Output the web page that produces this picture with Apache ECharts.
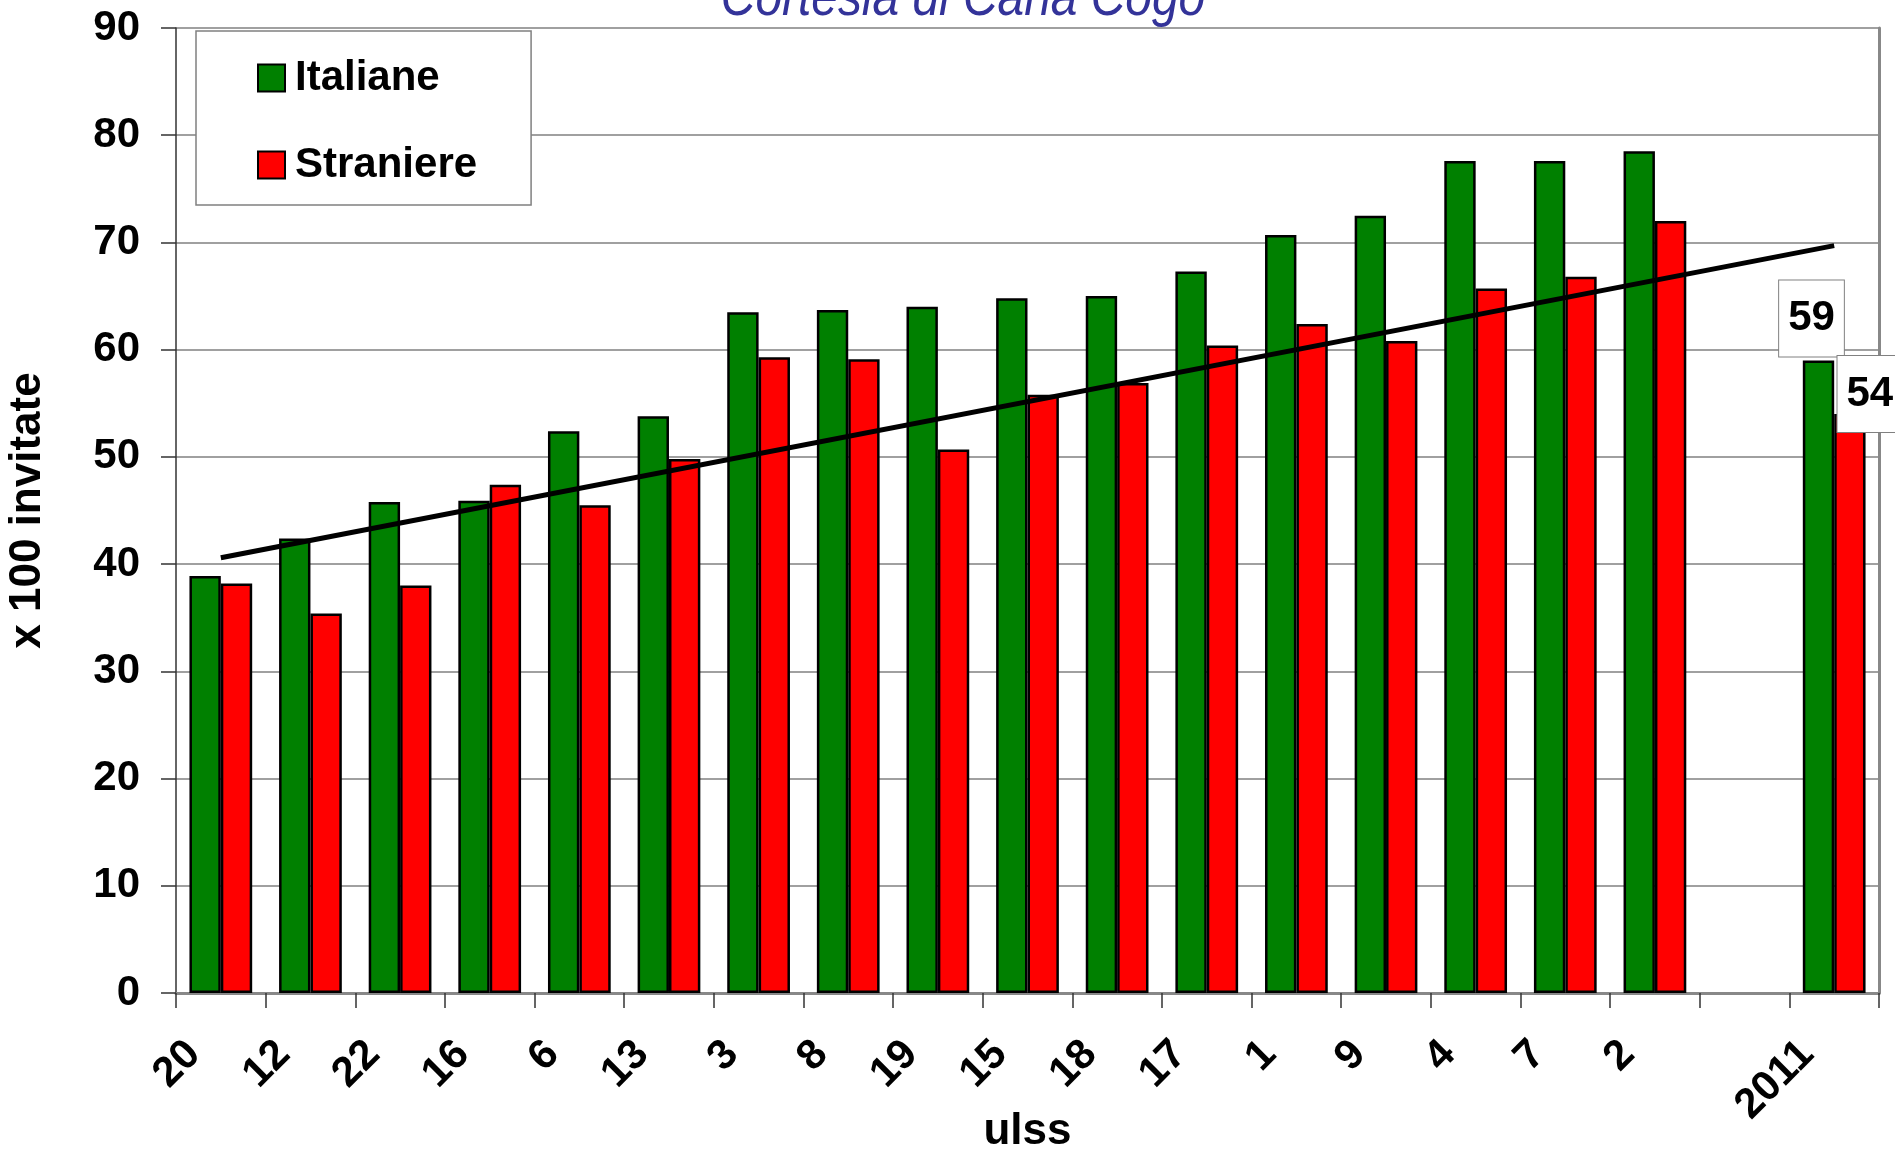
<!DOCTYPE html>
<html>
<head>
<meta charset="utf-8">
<script src="https://cdn.jsdelivr.net/npm/echarts@6/dist/echarts.min.js"></script>
<style>
  html, body { margin: 0; padding: 0; background: #ffffff; }
  #chart { width: 1895px; height: 1154px; }
</style>
</head>
<body>
<div id="chart"></div>
<script>
// ULSS districts (ordered by rate), an empty gap, then the regional total
const categories = ['20', '12', '22', '16', '6', '13', '3', '8', '19', '15', '18', '17', '1', '9', '4', '7', '2', '', '2011'];
// invited women per 100 (x 100 invitate)
const italiane  = [38.9, 42.4, 45.8, 45.9, 52.4, 53.8, 63.5, 63.7, 64.0, 64.8, 65.0, 67.3, 70.7, 72.5, 77.6, 77.6, 78.5, null, 59];
const straniere = [38.2, 35.4, 38.0, 47.4, 45.5, 49.8, 59.3, 59.1, 50.7, 55.8, 56.9, 60.4, 62.4, 60.8, 65.7, 66.8, 72.0, null, 54];
// linear trend, endpoints only
const trend     = [40.6, null, null, null, null, null, null, null, null, null, null, null, null, null, null, null, null, null, 69.7];
const yAxisMin = 0, yAxisMax = 90, yAxisStep = 10;
const totalIndex = 18; // the '2011' bar pair carries value boxes

const FONT = '"Liberation Sans", Arial, Helvetica, sans-serif';
const GREEN = '#008000', RED = '#ff0000';

function boxLabel(extra) {
  return Object.assign({
    show: true,
    position: 'top',
    formatter: '{c}',
    fontFamily: FONT,
    fontWeight: 'bold',
    fontSize: 42,
    lineHeight: 42,
    color: '#000',
    backgroundColor: '#ffffff',
    borderColor: '#808080',
    borderWidth: 1,
    padding: [17, 9]
  }, extra);
}

function withLabel(values, label) {
  return values.map((v, i) => i === totalIndex ? { value: v, label: label } : v);
}

const chart = echarts.init(document.getElementById('chart'), null, { renderer: 'canvas' });

chart.setOption({
  animation: false,
  backgroundColor: '#ffffff',
  graphic: [{
    type: 'text',
    x: 963,
    y: -1,
    scaleX: 0.855,
    style: {
      x: 0,
      y: 0,
      text: 'Cortesia di Carla Cogo',
      fontFamily: '"Liberation Sans Narrow", "Arial Narrow", ' + FONT,
      fontStyle: 'italic',
      fontSize: 56,
      fill: '#333399',
      textAlign: 'center',
      textVerticalAlign: 'middle'
    },
    z: 100
  }],
  grid: {
    left: 176, right: 16, top: 28, bottom: 161,
    containLabel: false,
    outerBoundsMode: 'none'
  },
  legend: {
    data: ['Italiane', 'Straniere'],
    orient: 'vertical',
    left: 196,
    top: 31,
    itemWidth: 27,
    itemHeight: 27,
    itemGap: 45,
    padding: [26, 54, 19, 61],
    backgroundColor: '#ffffff',
    borderColor: '#808080',
    borderWidth: 1.5,
    icon: 'rect',
    textStyle: {
      fontFamily: FONT, fontWeight: 'bold', fontSize: 42, lineHeight: 42,
      color: '#000', padding: [0, 0, 0, 5]
    },
    z: 10
  },
  xAxis: [{
    type: 'category',
    data: categories,
    name: 'ulss',
    nameLocation: 'middle',
    nameGap: 117,
    nameMoveOverlap: false,
    nameTextStyle: { fontFamily: FONT, fontWeight: 'bold', fontSize: 44, color: '#000' },
    axisLine: { show: true, lineStyle: { color: '#333333', width: 1.5 } },
    axisTick: { show: true, length: 15, lineStyle: { color: '#333333', width: 1.5 } },
    axisLabel: {
      interval: 0,
      rotate: 45,
      margin: 28,
      padding: [0, 38, 0, 0],
      fontFamily: FONT, fontWeight: 'bold', fontSize: 42, color: '#000'
    },
    splitLine: { show: false }
  }, {
    type: 'category',
    data: categories,
    position: 'top',
    axisLine: { show: true, lineStyle: { color: '#888888', width: 3 } },
    axisTick: { show: false },
    axisLabel: { show: false },
    splitLine: { show: false }
  }],
  yAxis: [{
    type: 'value',
    min: yAxisMin,
    max: yAxisMax,
    interval: yAxisStep,
    name: 'x 100 invitate',
    nameLocation: 'middle',
    nameGap: 126,
    nameMoveOverlap: false,
    nameTextStyle: { fontFamily: FONT, fontWeight: 'bold', fontSize: 44, color: '#000' },
    axisLine: { show: true, lineStyle: { color: '#333333', width: 1.5 } },
    axisTick: { show: true, length: 15, lineStyle: { color: '#333333', width: 1.5 } },
    axisLabel: { margin: 36, fontFamily: FONT, fontWeight: 'bold', fontSize: 42, color: '#000' },
    splitLine: { show: true, lineStyle: { color: '#808080', width: 1.5 } }
  }, {
    type: 'value',
    min: yAxisMin,
    max: yAxisMax,
    interval: yAxisStep,
    position: 'right',
    axisLine: { show: true, lineStyle: { color: '#888888', width: 3 } },
    axisTick: { show: false },
    axisLabel: { show: false },
    splitLine: { show: false }
  }],
  series: [{
    name: 'Italiane',
    type: 'bar',
    barGap: '0%',
    barCategoryGap: '30%',
    itemStyle: { color: GREEN, borderColor: '#000', borderWidth: 2.5 },
    data: withLabel(italiane, boxLabel({ distance: 4, offset: [-7, 0] })),
    z: 3
  }, {
    name: 'Straniere',
    type: 'bar',
    barGap: '0%',
    barCategoryGap: '30%',
    itemStyle: { color: RED, borderColor: '#000', borderWidth: 2.5 },
    data: withLabel(straniere, boxLabel({ distance: 5, offset: [20, 23] })),
    z: 3
  }, {
    name: 'trend',
    type: 'line',
    data: trend,
    connectNulls: true,
    symbol: 'none',
    lineStyle: { color: '#000', width: 5 },
    silent: true,
    z: 4
  }]
});
</script>
</body>
</html>
